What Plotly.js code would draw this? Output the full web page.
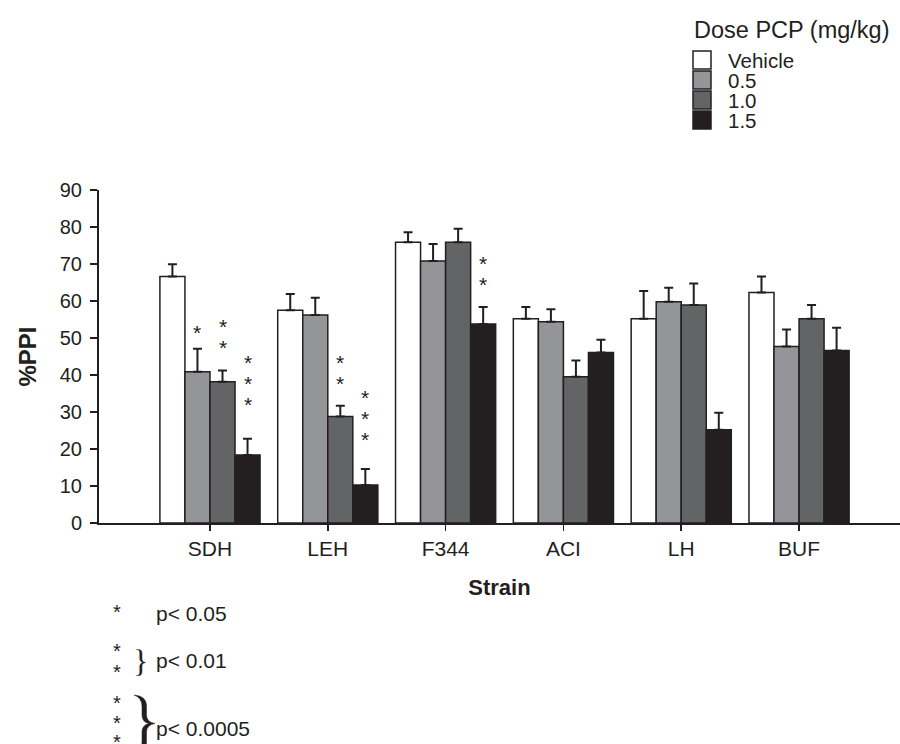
<!DOCTYPE html>
<html>
<head>
<meta charset="utf-8">
<script src="https://cdn.plot.ly/plotly-3.0.1.min.js"></script>
<style>html,body{margin:0;padding:0;background:#fff;}#chart{width:900px;height:744px;}</style>
</head>
<body>
<div id="chart"></div>
<script>
// ---------- data ----------
const strains = ['SDH', 'LEH', 'F344', 'ACI', 'LH', 'BUF'];
const doseLabels = ['Vehicle', '0.5', '1.0', '1.5'];
const legendTitle = 'Dose PCP (mg/kg)';

const vehicle    = [66.6, 57.5, 75.9, 55.2, 55.2, 62.3];
const vehicleErr = [3.3, 4.4, 2.7, 3.2, 7.5, 4.3];
const pcp05      = [40.9, 56.2, 70.8, 54.4, 59.8, 47.7];
const pcp05Err   = [6.2, 4.7, 4.6, 3.4, 3.8, 4.6];
const pcp10      = [38.2, 28.8, 75.9, 39.5, 58.9, 55.2];
const pcp10Err   = [3.0, 2.9, 3.6, 4.4, 5.8, 3.7];
const pcp15      = [18.4, 10.3, 53.8, 46.1, 25.2, 46.6];
const pcp15Err   = [4.4, 4.3, 4.6, 3.4, 4.6, 6.2];

// significance marks (strain, dose index, number of stars, value of lowest star)
const sigStrain = ['SDH', 'SDH', 'SDH', 'LEH', 'LEH', 'F344'];
const sigDose   = [1, 2, 3, 2, 3, 3];
const sigCount  = [1, 2, 3, 2, 3, 2];
const sigLowY   = [53.0, 48.8, 33.5, 39.1, 24.0, 65.9];

const footText  = ['p< 0.05', 'p< 0.01', 'p< 0.0005'];

// ---------- styling ----------
const INK = '#231f20';
const colors = ['#ffffff', '#939598', '#636466', '#231f20'];
const FONT = 'Liberation Sans, Arial, Helvetica, sans-serif';
const SERIF = 'Liberation Serif, Times New Roman, serif';
const W = 900, H = 744;
const M = {l: 99, r: 0, t: 190, b: 221};
const PW = W - M.l - M.r, PH = H - M.t - M.b;
const BARGAP = 0.15;
const px = x => (x - M.l) / PW;
const py = y => (H - M.b - y) / PH;

const values = [vehicle, pcp05, pcp10, pcp15];
const errs = [vehicleErr, pcp05Err, pcp10Err, pcp15Err];

const traces = values.map((v, i) => ({
  type: 'bar',
  name: doseLabels[i],
  x: strains,
  y: v,
  marker: {color: colors[i], line: {color: INK, width: 1.5}},
  error_y: {
    type: 'data', array: errs[i], arrayminus: errs[i].map(() => 0),
    symmetric: false, color: INK, thickness: 2, width: 4.5
  },
  showlegend: false,
  hoverinfo: 'x+y+name'
}));

const annotations = [];
const shapes = [];

// significance stars above bars
const STAR_SHIFT = -5, STAR_GAP = 21;
sigStrain.forEach((s, k) => {
  const xi = strains.indexOf(s) + (sigDose[k] - 1.5) * (1 - BARGAP) / 4;
  for (let j = 0; j < sigCount[k]; j++) {
    annotations.push({
      xref: 'x', yref: 'y', x: xi, y: sigLowY[k],
      text: '*', showarrow: false, xanchor: 'center', yanchor: 'middle',
      yshift: STAR_SHIFT + j * STAR_GAP, height: 18,
      font: {family: FONT, size: 21, color: INK}
    });
  }
});

// manual legend
annotations.push({
  xref: 'paper', yref: 'paper', x: px(791), y: py(30),
  text: legendTitle, showarrow: false, xanchor: 'center', yanchor: 'middle',
  font: {family: FONT, size: 23.5, color: INK}
});
doseLabels.forEach((d, i) => {
  const cy = 60 + i * 20;
  shapes.push({
    type: 'rect', xref: 'paper', yref: 'paper',
    x0: px(693), x1: px(711), y0: py(cy - 9), y1: py(cy + 9),
    fillcolor: colors[i], line: {color: INK, width: 1.5}
  });
  annotations.push({
    xref: 'paper', yref: 'paper', x: px(726), y: py(cy),
    text: d, showarrow: false, xanchor: 'left', yanchor: 'middle', height: 20,
    font: {family: FONT, size: 20.5, color: INK}
  });
});

// footnotes
const footRows = [[607], [646, 667], [698, 718, 737]];
const footTextY = [613, 660, 728];
footRows.forEach((rows, r) => {
  rows.forEach(yy => {
    annotations.push({
      xref: 'paper', yref: 'paper', x: px(117), y: py(yy + 4.5),
      text: '*', showarrow: false, xanchor: 'center', yanchor: 'middle', height: 16,
      font: {family: FONT, size: 20, color: INK}
    });
  });
  annotations.push({
    xref: 'paper', yref: 'paper', x: px(154), y: py(footTextY[r]),
    text: footText[r], showarrow: false, xanchor: 'left', yanchor: 'middle',
    font: {family: FONT, size: 21, color: INK}
  });
});
annotations.push({
  xref: 'paper', yref: 'paper', x: px(140), y: py(661),
  text: '}', showarrow: false, xanchor: 'center', yanchor: 'middle',
  font: {family: SERIF, size: 32, color: INK}
});

// large brace for the three-star footnote, drawn as a filled path
const bracePts = [
  ['M', 134, 695],
  ['Q', 146.5, 696, 146.5, 706], ['L', 146.5, 715],
  ['Q', 146.5, 722, 155, 723.5],
  ['Q', 146.5, 725, 146.5, 732], ['L', 146.5, 742],
  ['Q', 146.5, 752, 134, 754],
  ['Q', 142, 750, 142, 742], ['L', 142, 732],
  ['Q', 142, 725, 149, 723.5],
  ['Q', 142, 722, 142, 715], ['L', 142, 706],
  ['Q', 142, 698, 134, 695]
];
const bracePath = bracePts.map(seg => {
  const c = seg[0], n = seg.slice(1);
  const parts = [];
  for (let i = 0; i < n.length; i += 2) parts.push(px(n[i]).toFixed(5) + ',' + py(n[i + 1]).toFixed(5));
  return c + parts.join(' ');
}).join(' ') + ' Z';
shapes.push({
  type: 'path', xref: 'paper', yref: 'paper', path: bracePath,
  fillcolor: INK, line: {color: INK, width: 0.5}
});

const layout = {
  width: W, height: H,
  margin: M,
  paper_bgcolor: '#ffffff', plot_bgcolor: '#ffffff',
  barmode: 'group', bargap: BARGAP, bargroupgap: 0,
  showlegend: false,
  font: {family: FONT, color: INK, size: 20},
  xaxis: {
    type: 'category',
    range: [-0.942, 5.857],
    showline: true, linecolor: INK, linewidth: 2,
    ticks: 'outside', ticklen: 6, tickwidth: 1.5, tickcolor: INK,
    showgrid: false, zeroline: false,
    tickfont: {family: FONT, size: 21, color: INK},
    title: {text: '<b>Strain</b>', font: {family: FONT, size: 22, color: INK}, standoff: 20}
  },
  yaxis: {
    range: [0, 90], dtick: 10, tick0: 0,
    showline: true, linecolor: INK, linewidth: 2,
    ticks: 'outside', ticklen: 7, tickwidth: 1.5, tickcolor: INK,
    ticklabelstandoff: 4,
    showgrid: false, zeroline: false,
    tickfont: {family: FONT, size: 20, color: INK},
    title: {text: '<b>%PPI</b>', font: {family: FONT, size: 24, color: INK}, standoff: 16}
  },
  annotations: annotations,
  shapes: shapes
};

Plotly.newPlot('chart', traces, layout, {displayModeBar: false, staticPlot: true});
</script>
</body>
</html>
